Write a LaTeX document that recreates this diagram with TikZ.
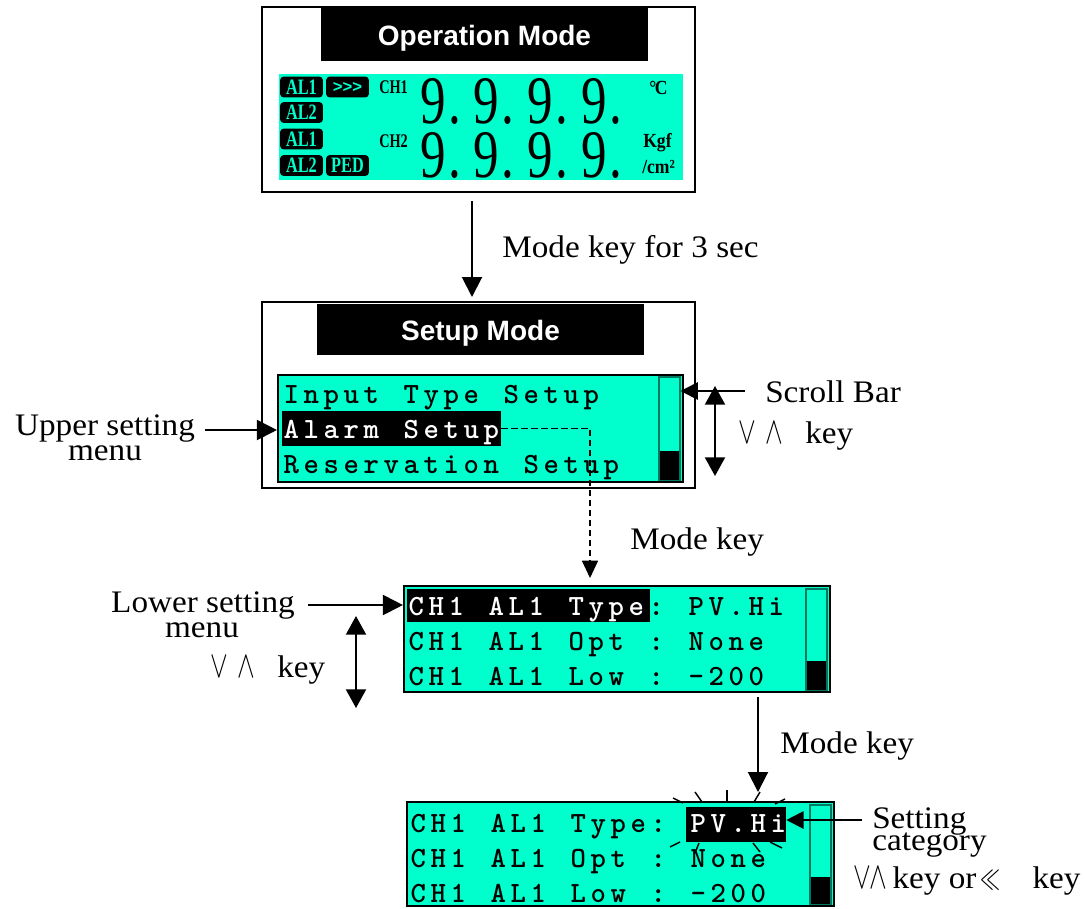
\documentclass[tikz,border=0pt]{standalone}
\usepackage{fontspec}
\usetikzlibrary{fit,arrows.meta}
\newfontfamily\lblfont{Liberation Serif}[FakeStretch=1.06]
\newfontfamily\ttlfont{Liberation Sans}
\newfontfamily\lcdfont{lmmonolt10-bold.otf}
\newfontfamily\narfont{Liberation Serif}[FakeStretch=0.74]
\newfontfamily\unifont{Liberation Serif}[FakeStretch=0.88]
\newfontfamily\digfont{Liberation Serif}[FakeStretch=0.75]
\definecolor{lcdc}{RGB}{0,255,204}
\definecolor{sbar}{RGB}{0,120,95}
\makeatletter
\newlength\lcdpitch
\setlength\lcdpitch{15pt}
\newcommand\lcdstr[1]{\@tfor\lcd@c:=#1\do{\makebox[\lcdpitch][c]{\lcd@c}}}
\makeatother
\newcommand\rectnode[4]{\path (#2) coordinate (#1-a) (#3) coordinate (#1-b); \node[#4, fit=(#1-a)(#1-b)] (#1) {};}
\newcommand\vsym{\scalebox{0.8}[1.15]{$\vee$}}
\newcommand\wsym{\scalebox{0.8}[1.15]{$\wedge$}}
\newcommand\vwkey{\makebox[20.25pt][l]{\vsym}\makebox[30pt][l]{\wsym}key}
\tikzset{
 frame/.style={draw=black, line width=1.5pt, inner sep=0pt},
 bar/.style={fill=black, inner sep=0pt},
 lcdbg/.style={fill=lcdc, inner sep=0pt},
 lcdbox/.style={draw=black, fill=lcdc, line width=1.6pt, inner sep=0pt},
 sbarst/.style={draw=sbar, fill=lcdc, line width=0.8pt, inner sep=0pt},
 blk/.style={fill=black, inner sep=0pt},
 ttl/.style={font=\ttlfont\bfseries\fontsize{21}{21}\selectfont, text=white, inner sep=0pt, anchor=base},
 lbl/.style={font=\lblfont\fontsize{23.5}{24}\selectfont, inner sep=0pt},
 lcdrow/.style={font=\lcdfont\fontsize{22}{22}\selectfont, inner sep=0pt, anchor=base west},
 badge/.style={fill=black, rounded corners=2.5pt, minimum width=32pt, minimum height=15.5pt, inner sep=0pt, text=lcdc, font=\narfont\bfseries\fontsize{16.5}{15}\selectfont},
 chtxt/.style={font=\narfont\bfseries\fontsize{14.5}{13}\selectfont, inner sep=0pt, anchor=base west},
 unitxt/.style={font=\unifont\bfseries\fontsize{15}{13}\selectfont, inner sep=0pt, anchor=base west},
 dig/.style={font=\digfont\fontsize{51}{51}\selectfont, inner sep=0pt, anchor=base west},
 arr/.style={line width=1.5pt, -{Triangle[width=15pt,length=15pt]}},
 sarr/.style={line width=1.5pt, -{Triangle[width=13pt,length=13pt]}},
 darr/.style={line width=1.5pt, {Triangle[width=15pt,length=14pt]}-{Triangle[width=15pt,length=14pt]}},
 dasharr/.style={line width=1.1pt, dash pattern=on 5pt off 2.5pt, -{Triangle[width=12pt,length=13pt]}},
 spk/.style={line width=1.1pt},
}
\begin{document}
\begin{tikzpicture}[x=0.75pt,y=-0.75pt]
\useasboundingbox (0,0) rectangle (1085,908);
% ---------- Operation mode ----------
\rectnode{op}{262,7}{695,192}{frame}
\rectnode{opbar}{321,7}{648,61}{bar}
\node[ttl] (optitle) at (484.5,45) {Operation Mode};
\rectnode{oplcd}{279,74}{683,180}{lcdbg}
\node[badge] (bA) at (301.5,87) {AL1};
\node[badge, font=\ttlfont\bfseries\fontsize{12.5}{12}\selectfont] (bB) at (347.5,87) {>>>};
\node[badge] (bC) at (301.5,112.5) {AL2};
\node[badge] (bD) at (301.5,139) {AL1};
\node[badge] (bE) at (301.5,165.5) {AL2};
\node[badge] (bF) at (347.5,165.5) {PED};
\node[chtxt] (ch1) at (379,93) {CH1};
\node[chtxt] (ch2) at (379,147) {CH2};
\foreach \xx [count=\i] in {420,473.5,527.5,581}{
  \node[dig] (da\i) at (\xx,123) {9\kern2pt.};
  \node[dig] (db\i) at (\xx,177) {9\kern2pt.};
}
\node[unitxt] (degc) at (649,94) {°\kern-1pt C};
\node[unitxt] (kgf) at (643,147) {Kgf};
\node[unitxt] (cm2) at (642,173) {/cm²};
% arrow to setup
\coordinate (m1s) at (472,201);
\coordinate (m1e) at (472,297);
\draw[arr] (m1s) -- (m1e);
\node[lbl, anchor=base west] (lab1) at (502,257) {Mode key for 3 sec};
% ---------- Setup mode ----------
\rectnode{su}{262,302}{695,488}{frame}
\rectnode{subar}{317,304}{644,355}{bar}
\node[ttl] (sutitle) at (480.5,340) {Setup Mode};
\rectnode{ulcd}{278,375}{683,482}{lcdbox}
\rectnode{usb}{659,377}{680,480}{sbarst}
\rectnode{usbk}{660,451}{679,480}{blk}
\rectnode{uhl}{282,411}{501,446}{blk}
\node[lcdrow] (u1) at (281,403) {\lcdstr{Input~Type~Setup}};
\node[lcdrow, text=white] (u2) at (281,438) {\lcdstr{Alarm~Setup}};
\node[lcdrow] (u3) at (281,473) {\lcdstr{Reservation~Setup}};
% scroll bar arrow
\coordinate (sbA) at (745,391);
\draw[sarr] (sbA) -- (usb.east |- sbA);
\node[lbl, anchor=base west] (sbl) at (765,402) {Scroll Bar};
\coordinate (ud1) at (715,386);
\coordinate (ud2) at (715,476);
\draw[darr] (ud1) -- (ud2);
\node[lbl, anchor=base west] (uk) at (738,443) {\vwkey};
% upper setting menu
\coordinate (upA) at (205,430);
\draw[arr] (upA) -- (ulcd.west |- upA);
\node[lbl, anchor=base] (upl1) at (105,435) {Upper setting};
\node[lbl, anchor=base] (upl2) at (105,460) {menu};
% dashed mode key
\coordinate (de) at (590,578);
\draw[dasharr] (uhl.east) -| (de);
\node[lbl, anchor=base west] (mk1) at (630,549) {Mode key};
% ---------- Lower menu ----------
\rectnode{mlcd}{404,586}{830,692}{lcdbox}
\rectnode{msb}{806,589}{827,690}{sbarst}
\rectnode{msbk}{807,661}{826,690}{blk}
\rectnode{mhl}{407,589}{650,622}{blk}
\node[lcdrow] (m1r) at (406,615) {{\color{white}\lcdstr{CH1~AL1~Type}}\lcdstr{:~PV.Hi}};
\node[lcdrow] (m2r) at (406,650) {\lcdstr{CH1~AL1~Opt~:~None}};
\node[lcdrow] (m3r) at (406,685) {\lcdstr{CH1~AL1~Low~:~-200}};
\coordinate (loA) at (308,605);
\draw[arr] (loA) -- (mlcd.west |- loA);
\node[lbl, anchor=base] (lol1) at (203,612) {Lower setting};
\node[lbl, anchor=base] (lol2) at (202,637) {menu};
\coordinate (ld1) at (356,616);
\coordinate (ld2) at (356,708);
\draw[darr] (ld1) -- (ld2);
\node[lbl, anchor=base west] (lk) at (210,677) {\vwkey};
% mode key arrow 2
\coordinate (m2s) at (758,697);
\coordinate (m2e) at (758,792);
\draw[arr] (m2s) -- (m2e);
\node[lbl, anchor=base west] (mk2) at (780,753) {Mode key};
% ---------- Setting category ----------
\rectnode{blcd}{407,802}{834,906}{lcdbox}
\rectnode{bsb}{810,805}{831,904}{sbarst}
\rectnode{bsbk}{811,877}{830,904}{blk}
\rectnode{bhl}{686,807}{786,842}{blk}
\node[lcdrow] (b1r) at (408,832) {\lcdstr{CH1~AL1~Type:~}{\color{white}\lcdstr{PV.Hi}}};
\node[lcdrow] (b2r) at (408,867) {\lcdstr{CH1~AL1~Opt~:~None}};
\node[lcdrow] (b3r) at (408,902) {\lcdstr{CH1~AL1~Low~:~-200}};
\draw[spk] (673,798) -- (683,803);
\draw[spk] (695,792) -- (702,802);
\draw[spk] (727,790) -- (727,803);
\draw[spk] (760,792) -- (754,802);
\draw[spk] (775,804) -- (785,799);
\draw[spk] (670,847) -- (680,842);
\draw[spk] (699,843) -- (695,853);
\draw[spk] (753,843) -- (760,852);
\draw[spk] (770,842) -- (782,848);
\coordinate (scA) at (862,820);
\draw[sarr] (scA) -- (bhl.east |- scA);
\node[lbl, anchor=base west] (sc1) at (872,828) {Setting};
\node[lbl, anchor=base west] (sc2) at (872,850) {category};
\node[lbl, anchor=base west] (sck) at (853,888) {\makebox[12.5pt][l]{\vsym}\makebox[17pt][l]{\wsym}key or\hspace{3pt}\makebox[39pt][l]{\scalebox{0.6}[1.0]{$\ll$}}key};
\end{tikzpicture}
\end{document}
